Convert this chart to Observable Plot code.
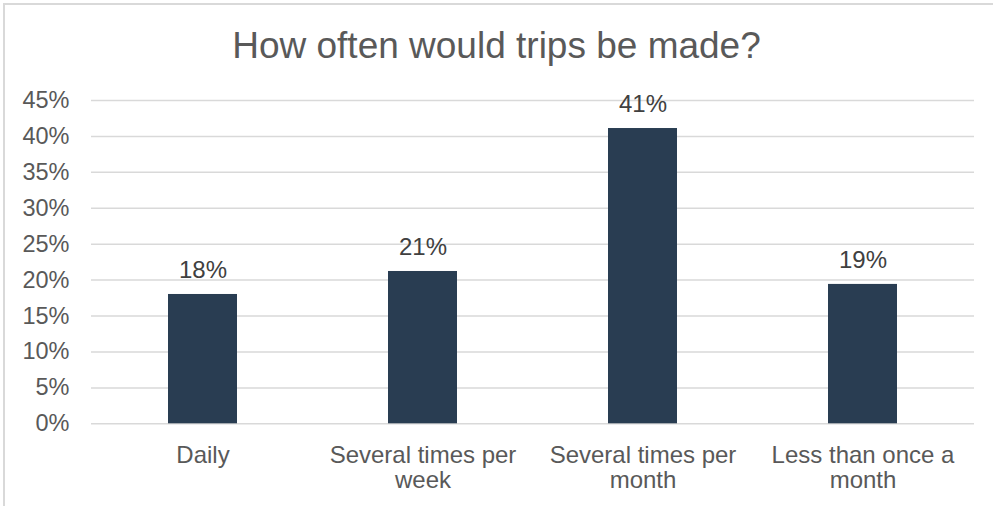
<!DOCTYPE html>
<html>
<head>
<meta charset="utf-8">
<script src="https://cdn.jsdelivr.net/npm/d3@7"></script>
<script src="https://cdn.jsdelivr.net/npm/@observablehq/plot@0.6"></script>
<style>
  html, body { margin: 0; padding: 0; background: #fff; }
  #wrap { position: relative; width: 993px; height: 506px; overflow: hidden; font-family: "Liberation Sans", Arial, sans-serif; }
  #border { position: absolute; left: 3px; top: 3px; width: 1100px; height: 600px; border: 2px solid #d9d9d9; box-sizing: border-box; }
  #title { position: absolute; left: 0; width: 993px; top: 27px; text-align: center; font-size: 37px; line-height: 37px; color: #595959; white-space: nowrap; }
  #chart { position: absolute; left: 0; top: 80px; }
</style>
</head>
<body>
<div id="wrap">
  <div id="border"></div>
  <div id="title">How often would trips be made?</div>
  <div id="chart"></div>
</div>
<script>
const categories = ["Daily", "Several times per week", "Several times per month", "Less than once a month"];
const tickLabels = ["Daily", "Several times per\nweek", "Several times per\nmonth", "Less than once a\nmonth"];
const values = [18.0, 21.2, 41.1, 19.4];
const yTicks = [0, 5, 10, 15, 20, 25, 30, 35, 40, 45];

const data = categories.map((c, i) => ({category: c, value: values[i]}));
const labelOf = new Map(categories.map((c, i) => [c, tickLabels[i]]));

const plot = Plot.plot({
  width: 993,
  height: 426,
  marginLeft: 91,
  marginRight: 19,
  marginTop: 20,
  marginBottom: 82.7,
  style: {fontFamily: '"Liberation Sans", Arial, sans-serif', background: "transparent", overflow: "visible"},
  x: {domain: categories, paddingInner: 0.686, paddingOuter: 0.343, label: null},
  y: {domain: [0, 45], label: null},
  marks: [
    Plot.ruleY(yTicks, {stroke: "#d9d9d9", strokeWidth: 1.5}),
    Plot.barY(data, {x: "category", y: "value", fill: "#293d52"}),
    Plot.text(data, {x: "category", y: "value", text: d => Math.round(d.value) + "%", dy: -24, fontSize: 24, fill: "#404040"}),
    Plot.axisY({ticks: yTicks, tickSize: 0, tickPadding: 22, tickFormat: d => d + "%", fontSize: 23.5, fill: "#595959", label: null}),
    Plot.axisX({tickSize: 0, tickPadding: 21, tickFormat: d => labelOf.get(d), fontSize: 24, lineHeight: 1.05, fill: "#595959", label: null})
  ]
});
document.getElementById("chart").appendChild(plot);
</script>
</body>
</html>
